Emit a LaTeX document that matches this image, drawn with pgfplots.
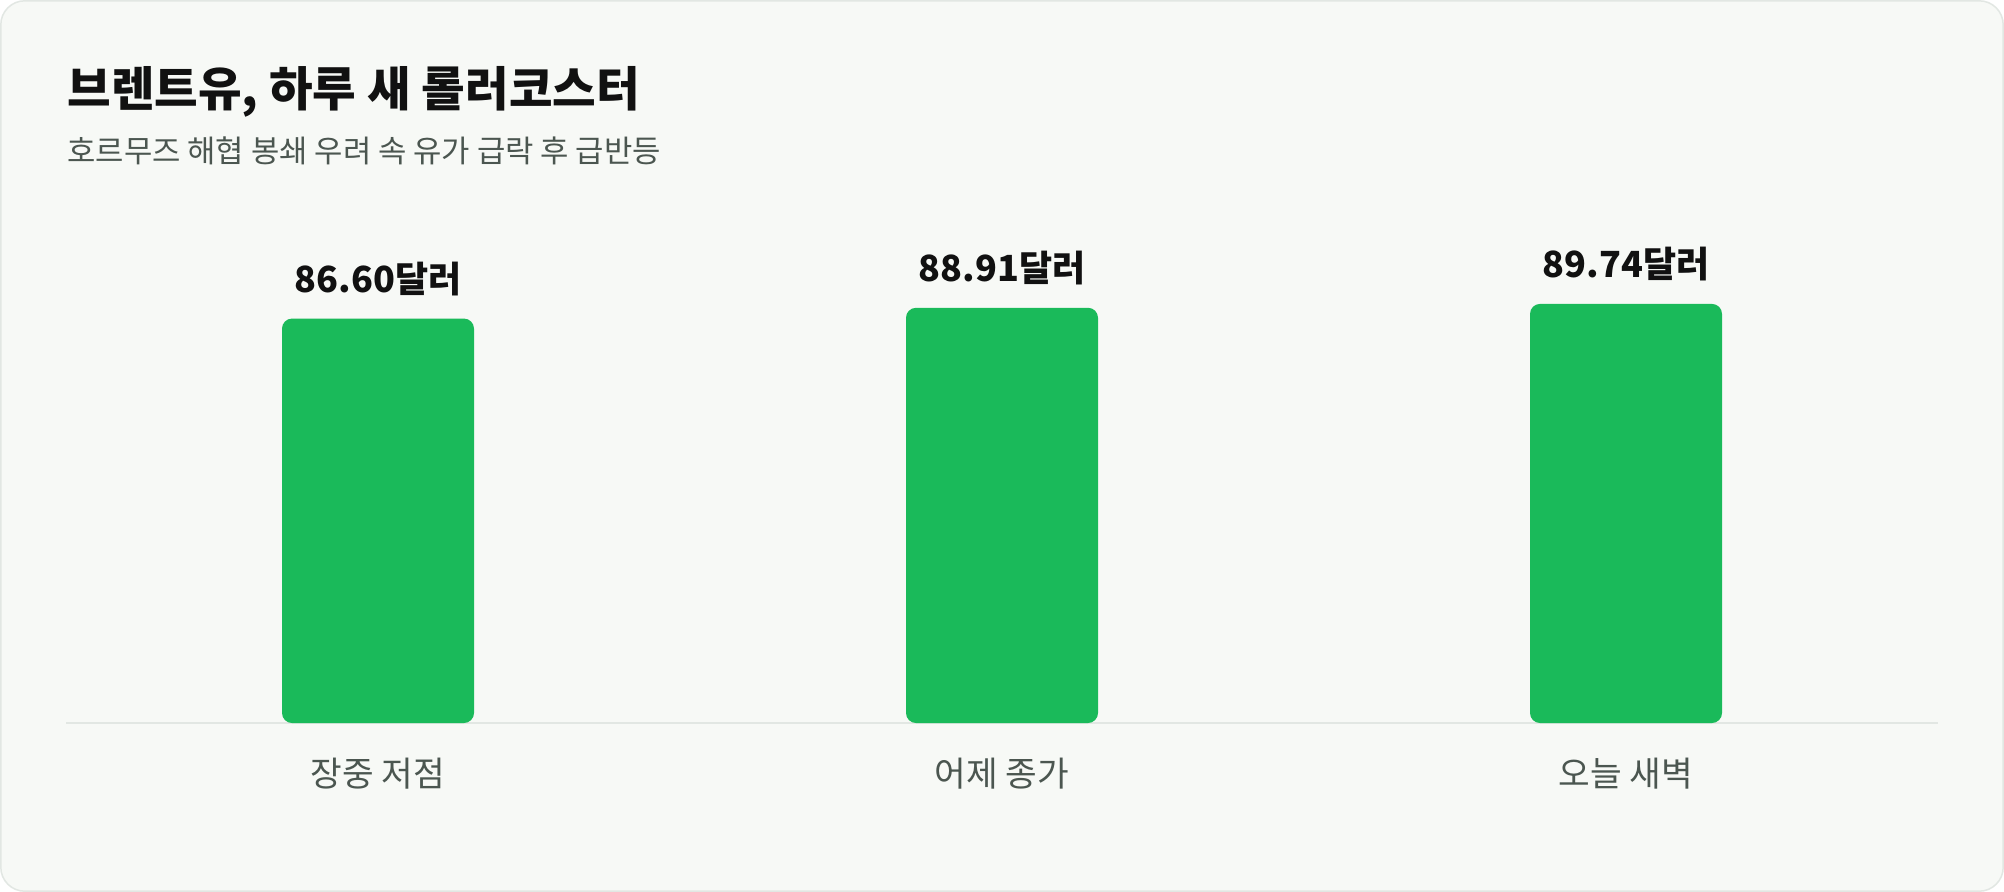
\documentclass[border=0pt]{standalone}
\usepackage{pgfplots}
\pgfplotsset{compat=1.18}
\usepackage{fontspec}
\setmainfont{Noto Sans CJK KR}
\definecolor{cardbg}{HTML}{F7F9F6}
\definecolor{cardline}{HTML}{E2E7E3}
\definecolor{bargreen}{HTML}{1ABA5A}
\definecolor{titleink}{HTML}{111111}
\definecolor{subink}{HTML}{4B5650}

\begin{document}
\begin{tikzpicture}
  % card; 1px of the reference = 0.5bp
  \fill[white] (0,0) rectangle (1002bp,-446bp);
  \draw[cardline, fill=cardbg, line width=0.75bp, rounded corners=12bp]
    (0.4bp,-0.4bp) rectangle (1001.6bp,-445.6bp);
  \node[anchor=base west, inner sep=0, text=titleink,
        font=\fontsize{23.7bp}{28bp}\selectfont\bfseries]
    at (33.5bp,-53bp) {브렌트유, 하루 새 롤러코스터};
  \node[anchor=base west, inner sep=0, text=subink,
        font=\fontsize{15.4bp}{18bp}\selectfont]
    at (33.5bp,-81bp) {호르무즈 해협 봉쇄 우려 속 유가 급락 후 급반등};

  \begin{axis}[
    at={(33bp,-361.5bp)}, anchor=south west,
    scale only axis,
    width=936bp, height=233.5bp,
    xmin=-0.5, xmax=2.5,
    ymin=0, ymax=100,
    axis x line*=bottom,
    axis y line=none,
    x axis line style={cardline, line width=0.75bp, -},
    xtick={0,1,2},
    xticklabels={장중 저점, 어제 종가, 오늘 새벽},
    major tick length=0,
    xticklabel style={anchor=base, yshift=-31.5bp, text=subink,
                      font=\fontsize{17.2bp}{20bp}\selectfont},
    clip=false,
  ]
    \addplot[ybar, bar width=96bp, fill=bargreen, draw=none,
             rounded corners=5bp,
             nodes near coords={\pgfmathprintnumber[fixed, fixed zerofill,
                 precision=2, assume math mode=true]{\pgfplotspointmeta}달러},
             nodes near coords style={anchor=base, yshift=13bp, text=titleink,
                 font=\fontsize{18bp}{21bp}\selectfont\bfseries}]
      coordinates {(0,86.60) (1,88.91) (2,89.74)};
  \end{axis}
  \pgfresetboundingbox
  \useasboundingbox (0,0) rectangle (1002bp,-446bp);
\end{tikzpicture}
\end{document}
